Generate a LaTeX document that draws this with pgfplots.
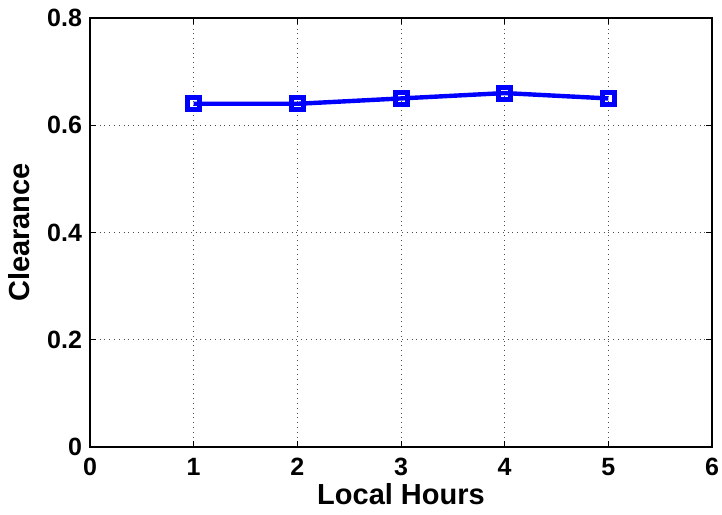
\documentclass[border=0pt]{standalone}
\usepackage{fontspec}
\setmainfont{Liberation Sans}
\usepackage{pgfplots}
\usetikzlibrary{calc}
\pgfplotsset{compat=1.18}
\begin{document}
\begin{tikzpicture}
\begin{axis}[
  name=ax,
  scale only axis,
  width=311pt, height=214.5pt,
  xmin=0, xmax=6, ymin=0, ymax=0.8,
  xtick={0,1,2,3,4,5,6},
  ytick={0,0.2,0.4,0.6,0.8},
  yticklabels={0,0.2,0.4,0.6,0.8},
  xticklabels={0,1,2,3,4,5,6},
  tick align=inside,
  tick style={black, line width=0.5pt},
  major tick length=3pt,
  grid=major,
  grid style={black!70, dotted, line width=0.5pt},
  axis line style={black, line width=0.6pt},
  ticklabel style={font=\fontsize{12.5}{14}\selectfont\bfseries},
  xticklabel style={yshift=-2pt},
  yticklabel style={xshift=-0.5pt},
  label style={font=\fontsize{14.5}{16}\selectfont\bfseries},
  xlabel={Local Hours},
  ylabel={Clearance},
  xlabel style={yshift=3pt},
  ylabel style={yshift=2pt},
]
\addplot[blue, line width=2.2pt, mark=square, mark size=3pt, mark options={line width=2.5pt}]
  coordinates {(1,0.64) (2,0.64) (3,0.65) (4,0.66) (5,0.65)};
\end{axis}
\pgfresetboundingbox
\path ($(ax.south west)+(-45pt,-34pt)$) rectangle ($(ax.north east)+(5pt,9pt)$);
\end{tikzpicture}
\end{document}
